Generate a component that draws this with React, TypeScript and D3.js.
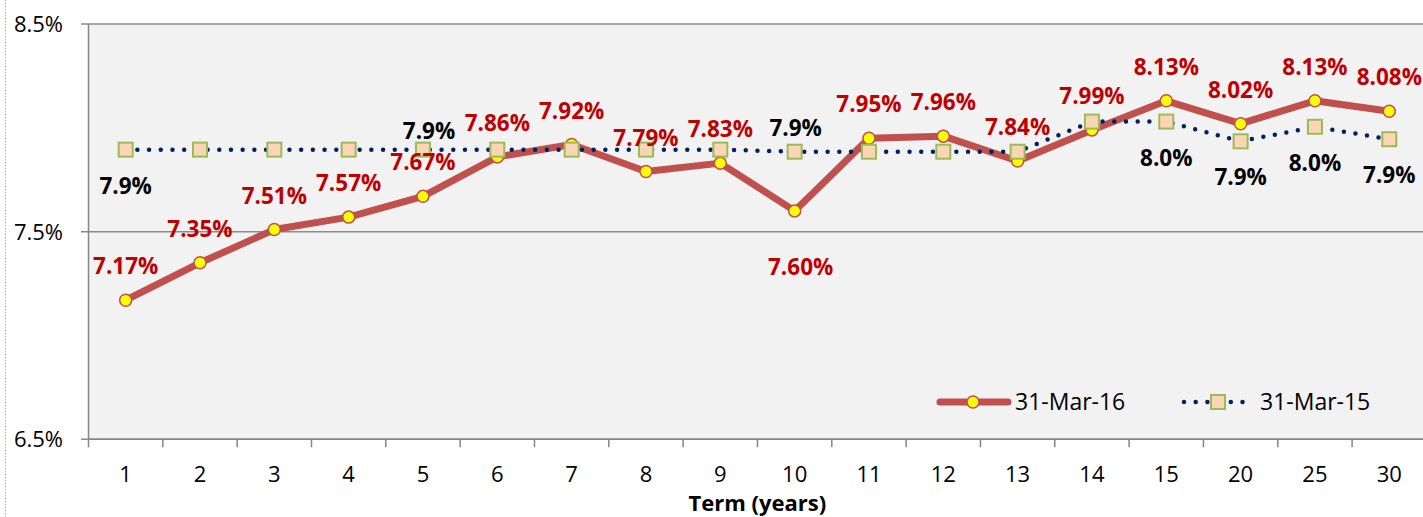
import * as d3 from 'd3';

const terms = ['1', '2', '3', '4', '5', '6', '7', '8', '9', '10', '11', '12', '13', '14', '15', '20', '25', '30'];
const mar16 = [7.17, 7.35, 7.51, 7.57, 7.67, 7.86, 7.92, 7.79, 7.83, 7.6, 7.95, 7.96, 7.84, 7.99, 8.13, 8.02, 8.13, 8.08];
const mar15 = [7.895, 7.895, 7.895, 7.895, 7.895, 7.895, 7.895, 7.895, 7.895, 7.885, 7.885, 7.885, 7.885, 8.03, 8.03, 7.935, 8.005, 7.945];
const yTicks = [6.5, 7.5, 8.5];
const seriesNames = ['31-Mar-16', '31-Mar-15'];

// which 31-Mar-15 points carry a label
const mar15Labelled = [0, 4, 9, 14, 15, 16, 17];

const W = 1423;
const H = 517;
const FONT = "'Open Sans', sans-serif";

const RED = '#c0504d';
const NAVY = '#002060';

export default function App() {
  const left = 88.5;
  const x = d3
    .scaleBand()
    .domain(terms)
    .range([left, left + terms.length * 74.33]);
  const y = d3.scaleLinear().domain([6.5, 8.5]).range([439.3, 24]);
  const cx = (i: number) => x(terms[i])! + x.bandwidth() / 2;

  const line = d3
    .line<number>()
    .x((_, i) => cx(i))
    .y((d) => y(d));

  const fmt2 = d3.format('.2f');
  const fmt1 = d3.format('.1f');

  // label nudges [dx, dy] relative to the point
  const lab16 = (i: number): [number, number] => (i === 9 ? [6, 56] : [0, -34]);
  const lab15 = (i: number): [number, number] =>
    i === 4 ? [6, -19] : i === 9 ? [1, -24] : [0, 36];

  const x0 = x.range()[0];
  const x1 = x.range()[1];

  return (
    <svg
      width={W}
      height={H}
      style={{ position: 'absolute', left: 0, top: 0, background: '#fff' }}
      fontFamily={FONT}
    >
      {/* outer dotted border */}
      <line x1={5.5} x2={5.5} y1={0} y2={H} stroke="#b0b0b0" strokeWidth={1} strokeDasharray="1.5 1.5" />

      {/* plot area */}
      <rect x={x0} y={y(8.5)} width={x1 - x0} height={y(6.5) - y(8.5)} fill="#f2f2f2" />

      {/* gridlines + y ticks */}
      {yTicks.map((t) => (
        <g key={t}>
          <line x1={81} x2={x1} y1={y(t)} y2={y(t)} stroke="#8c8c8c" strokeWidth={1.5} />
          <text x={63} y={y(t)} dy="0.36em" textAnchor="end" fontSize={22} fill="#000">
            {t.toFixed(1)}%
          </text>
        </g>
      ))}

      {/* axes */}
      <line x1={x0} x2={x0} y1={y(8.5)} y2={y(6.5)} stroke="#868686" strokeWidth={1.5} />
      <line x1={x0} x2={x1} y1={y(6.5)} y2={y(6.5)} stroke="#868686" strokeWidth={1.5} />
      {terms.map((t, i) => (
        <g key={t}>
          <line x1={x(t)!} x2={x(t)!} y1={y(6.5)} y2={y(6.5) + 8} stroke="#868686" strokeWidth={1.5} />
          <text x={cx(i)} y={482} textAnchor="middle" fontSize={22} fill="#000">
            {t}
          </text>
        </g>
      ))}
      <text x={(x0 + 1426) / 2} y={511} textAnchor="middle" fontSize={22} fontWeight="bold" fill="#000">
        Term (years)
      </text>

      {/* 31-Mar-16 */}
      <path d={line(mar16)!} fill="none" stroke={RED} strokeWidth={7} strokeLinejoin="round" strokeLinecap="round" />
      {mar16.map((v, i) => (
        <circle key={i} cx={cx(i)} cy={y(v)} r={6} fill="#ffff00" stroke={RED} strokeWidth={1.5} />
      ))}

      {/* 31-Mar-15 */}
      <path
        d={line(mar15)!}
        fill="none"
        stroke={NAVY}
        strokeWidth={4.5}
        strokeLinecap="round"
        strokeDasharray="0 11.7"
      />
      {mar15.map((v, i) => (
        <rect key={i} x={cx(i) - 7} y={y(v) - 7} width={14} height={14} fill="#fcd5b5" stroke="#9bbb59" strokeWidth={2} />
      ))}

      {/* data labels */}
      {mar16.map((v, i) => {
        const [dx, dy] = lab16(i);
        return (
          <text key={i} x={cx(i) + dx} y={y(v) + dy} dy="0.36em" textAnchor="middle" fontSize={22.5} fontWeight="bold" fill="#c00000">
            {fmt2(v)}%
          </text>
        );
      })}
      {mar15Labelled.map((i) => {
        const [dx, dy] = lab15(i);
        return (
          <text key={i} x={cx(i) + dx} y={y(mar15[i]) + dy} dy="0.36em" textAnchor="middle" fontSize={22.5} fontWeight="bold" fill="#000">
            {fmt1(mar15[i])}%
          </text>
        );
      })}

      {/* legend */}
      <g>
        <line x1={940} x2={1008} y1={402} y2={402} stroke={RED} strokeWidth={7} strokeLinecap="round" />
        <circle cx={973} cy={402} r={6} fill="#ffff00" stroke={RED} strokeWidth={1.5} />
        <text x={1015} y={402} dy="0.36em" fontSize={23} fill="#000">
          {seriesNames[0]}
        </text>
        <line x1={1184} x2={1246} y1={402} y2={402} stroke={NAVY} strokeWidth={4.5} strokeLinecap="round" strokeDasharray="0 11.7" />
        <rect x={1211} y={395} width={14} height={14} fill="#fcd5b5" stroke="#9bbb59" strokeWidth={2} />
        <text x={1260} y={402} dy="0.36em" fontSize={23} fill="#000">
          {seriesNames[1]}
        </text>
      </g>
    </svg>
  );
}
